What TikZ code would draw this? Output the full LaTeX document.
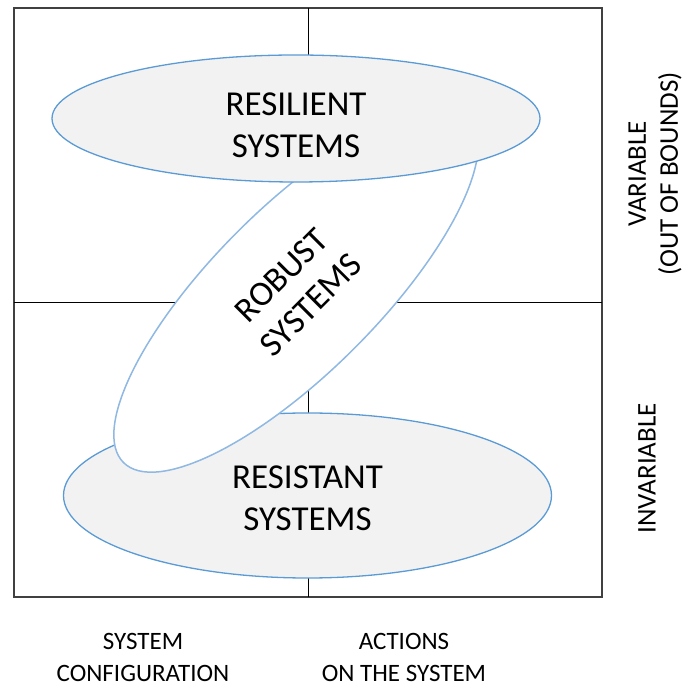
\documentclass[tikz,border=0pt]{standalone}
\usepackage{fontspec}
\setmainfont{Carlito}
\usetikzlibrary{shapes.geometric}
\definecolor{zoneblue}{HTML}{5B9BD5}
\definecolor{robustblue}{HTML}{8FB8E2}
\definecolor{zonefill}{HTML}{F2F2F2}
\definecolor{framegray}{HTML}{404040}
\begin{document}
\begin{tikzpicture}[
    x=1pt, y=1pt,
    zone/.style={ellipse, draw=zoneblue, line width=1.3pt, fill=zonefill, inner sep=0pt,
        minimum width=488pt, align=center, font=\fontsize{35}{42}\selectfont},
    axislabel/.style={align=center, font=\fontsize{25}{32}\selectfont},
    sidelabel/.style={align=center, rotate=90, font=\fontsize{27}{32}\selectfont}
]
\useasboundingbox (0,0) rectangle (698,685);
\coordinate (sw) at (14,88);
\coordinate (ne) at (602,677);
\coordinate (mid) at (308,383);
\draw[framegray, line width=1.2pt] (sw) rectangle (ne);
\draw[line width=0.9pt] (mid |- sw) -- (mid |- ne);
\draw[line width=0.9pt] (mid -| sw) -- (mid -| ne);
\node[zone, minimum height=165pt] (resistant) at (307.5,189.5) {\rule{0pt}{29pt}RESISTANT\\SYSTEMS};
\node[zone, draw=robustblue, fill=white, line width=1.5pt, minimum height=165pt, rotate=45] (robust) at (296,395) {ROBUST\\SYSTEMS};
\node[zone, minimum height=127pt] (resilient) at (296,566.5) {\rule{0pt}{37pt}RESILIENT\\SYSTEMS};
\node[axislabel] (config) at (143,28) {SYSTEM\\CONFIGURATION};
\node[axislabel] (actions) at (404,28) {ACTIONS\\ON THE SYSTEM};
\node[sidelabel] (variable) at (655,511) {VARIABLE\\(OUT OF BOUNDS)};
\node[sidelabel] (invariable) at (647,216.5) {INVARIABLE};
\end{tikzpicture}
\end{document}
